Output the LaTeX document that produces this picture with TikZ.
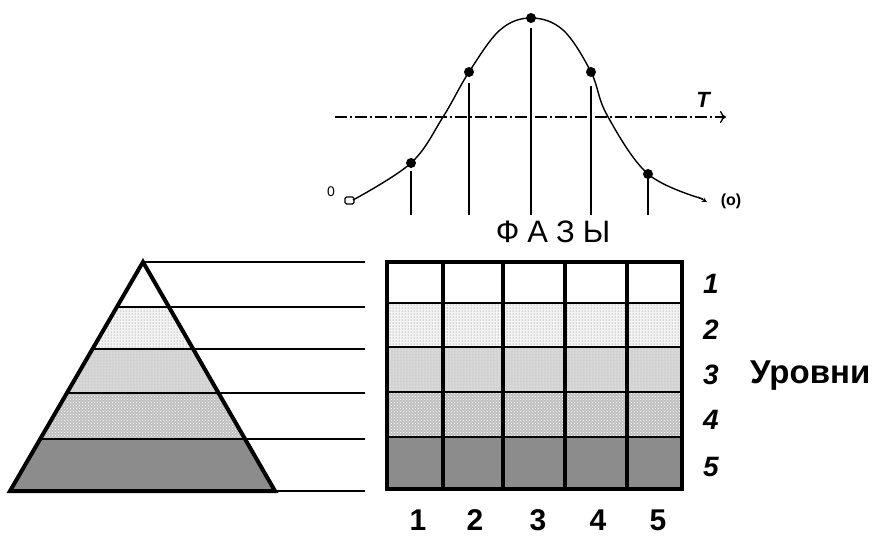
\documentclass[tikz,border=0pt]{standalone}
\usepackage{fontspec}
\setmainfont{Liberation Sans}
\usetikzlibrary{calc,patterns,arrows.meta}
\begin{document}
\begin{tikzpicture}[x=1pt,y=-1pt,
  thin line/.style={line width=1.6pt},
  thick line/.style={line width=3.2pt},
  dotpt/.style={circle,fill=black,inner sep=0pt,minimum size=10pt},
  lay2/.style={preaction={fill=gray!8},pattern=dots,pattern color=black!60},
  lay3/.style={preaction={fill=gray!35},pattern=dots,pattern color=white},
  lay4/.style={preaction={fill=gray!50},pattern=crosshatch dots,pattern color=white},
  lay5/.style={fill=black!45},
  lbl/.style={inner sep=0pt,anchor=base,font=\fontsize{30}{32}\selectfont\bfseries},
  lvl/.style={inner sep=0pt,anchor=base,font=\fontsize{28}{30}\selectfont\bfseries\itshape}]
\useasboundingbox (0,0) rectangle (877,536);

% ---------- top graph ----------
\coordinate (ax0) at (335,117);
\coordinate (ax1) at (726,117);
\draw[line width=1.3pt,dash pattern=on 12pt off 3pt on 2pt off 3pt,-{To[length=6pt,width=12pt]}] (ax0) -- (ax1);
\node[inner sep=0pt,anchor=base,font=\fontsize{22}{24}\selectfont\bfseries\itshape] (T) at (703,107) {T};

\draw[line width=1.4pt] plot[smooth,tension=0.6] coordinates {
  (353,200) (411,163) (443,117) (469,72) (500,30) (531,18)
  (563,30) (591,72) (607,115) (648,174) (703,199)};
\draw[line width=1pt,-{Stealth[length=5pt,width=5pt]}] (698,197) -- (707,202);

\node[dotpt] (d1) at (411,163) {};
\node[dotpt] (d2) at (469,72) {};
\node[dotpt] (d3) at (531,18) {};
\node[dotpt] (d4) at (591,72) {};
\node[dotpt] (d5) at (648,174) {};

\draw[thin line] (411,171) -- (411,215);
\draw[thin line] (469,83) -- (469,215);
\draw[thin line] (531,28) -- (531,215);
\draw[thin line] (591,86) -- (591,215);
\draw[thin line] (648,176) -- (648,215);

\draw[line width=1.2pt,rounded corners=1.5pt] (345,197) rectangle (354,204);
\node[inner sep=0pt,font=\fontsize{14}{15}\selectfont] (zero) at (331,192) {0};
\node[inner sep=0pt,font=\fontsize{16}{17}\selectfont\bfseries] (inf) at (731,201) {(o)};

\node[inner sep=0pt,anchor=base,font=\fontsize{31}{33}\selectfont] (faz) at (553,242) {Ф\hspace{8pt}А\hspace{8pt}З\hspace{8pt}Ы};

% ---------- pyramid ----------
\coordinate (apex) at (143,262);
\coordinate (bl) at (10,491);
\coordinate (br) at (275,491);
\foreach \i/\t in {1/0.1965,2/0.3799,3/0.5721,4/0.7729}{
  \coordinate (L\i) at ($(apex)!\t!(bl)$);
  \coordinate (R\i) at ($(apex)!\t!(br)$);
}
\coordinate (xend) at (365,0);
\fill[lay2] (L1) -- (R1) -- (R2) -- (L2) -- cycle;
\fill[lay3] (L2) -- (R2) -- (R3) -- (L3) -- cycle;
\fill[lay4] (L3) -- (R3) -- (R4) -- (L4) -- cycle;
\fill[lay5] (L4) -- (R4) -- (br) -- (bl) -- cycle;
\draw[thin line] (apex) -- (apex -| xend);
\foreach \i in {1,2,3,4}{ \draw[thin line] (L\i) -- (L\i -| xend); }
\draw[thin line] (br) -- (br -| xend);
\draw[line width=4pt,line join=miter] (apex) -- (bl) -- (br) -- cycle;

% ---------- grid ----------
\coordinate (g0) at (387,262);
\coordinate (g1) at (682,489);
\fill[lay2] (387,303) rectangle (682,347);
\fill[lay3] (387,347) rectangle (682,392);
\fill[lay4] (387,392) rectangle (682,437);
\fill[lay5] (387,437) rectangle (682,489);
\foreach \yy in {303,347,392,437}{ \draw[line width=1.8pt] (387,\yy) -- (682,\yy); }
\foreach \xx in {443,503,565,627}{ \draw[thick line] (\xx,262) -- (\xx,489); }
\draw[thick line] (g0) rectangle (g1);

\foreach \n/\xx in {1/418,2/475,3/538,4/598,5/658}{
  \node[lbl] (c\n) at (\xx,530) {\n};
}
\foreach \n/\yy in {1/293,2/339,3/384,4/429,5/476}{
  \node[lvl] (l\n) at (711,\yy) {\n};
}
\node[inner sep=0pt,anchor=base west,font=\fontsize{33}{35}\selectfont\bfseries] (urov) at (750,383) {Уровни};
\end{tikzpicture}
\end{document}
